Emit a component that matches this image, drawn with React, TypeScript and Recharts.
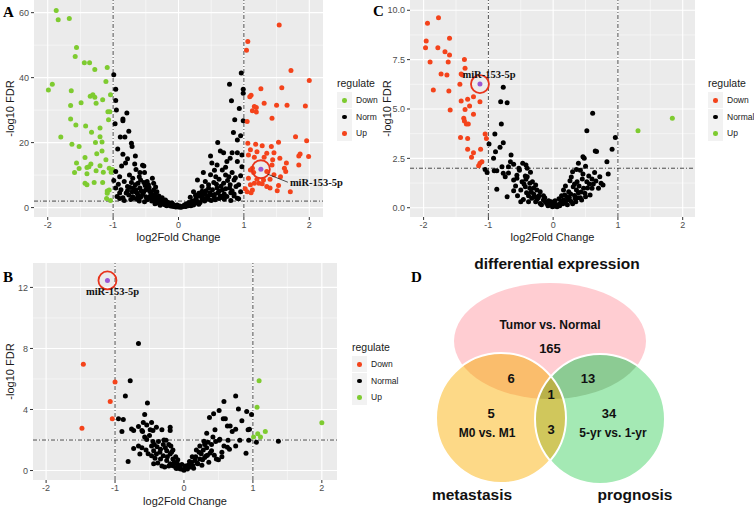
import React from "react";
import {
  ScatterChart,
  Scatter,
  XAxis,
  YAxis,
  CartesianGrid,
  ReferenceLine,
  Legend,
} from "recharts";

const RED = "#F4431B";
const GREEN = "#7ECB30";
const BLACK = "#000000";
const PURPLE = "#9B57D3";
const RING = "#E8341C";

const mirName = "miR-153-5p";
const xTicks = [-2, -1, 0, 1, 2];
const xMinor = [-1.5, -0.5, 0.5, 1.5];

// ---- panel A: flat [log2FC, -log10 FDR] pairs
const aDown = [
  -1.87, 60.7, -1.84, 57.8, -1.67, 58.2, -1.56, 49.3, -1.58, 46.5, -1.44, 44.6, -1.36, 44.6, -1.28, 42.5,
  -1.09, 43.1, -1.11, 38.8, -1.93, 38.0, -1.99, 36.2, -1.64, 36.0, -1.35, 34.3, -1.31, 34.7, -1.28, 34.0,
  -1.16, 33.2, -1.04, 34.7, -1.49, 32.3, -1.26, 32.1, -1.65, 31.4, -1.08, 29.5, -1.05, 29.5, -1.65, 27.3,
  -1.07, 27.0, -1.8, 21.7, -1.63, 19.5, -1.52, 18.8, -1.57, 25.4, -1.42, 25.1, -1.33, 23.2, -1.2, 24.5,
  -1.2, 21.8, -1.27, 20.0, -1.17, 20.2, -1.17, 17.4, -1.25, 16.6, -1.43, 15.4, -1.11, 14.7, -1.34, 13.4,
  -1.2, 12.9, -1.56, 13.7, -1.4, 12.3, -1.37, 12.6, -1.52, 12.0, -1.59, 10.8, -1.4, 10.4, -1.26, 11.3,
  -1.15, 10.9, -1.06, 12.1, -1.03, 10.9, -1.01, 11.7, -1.43, 7.5, -1.4, 7.0, -1.29, 7.7, -1.16, 7.7,
  -1.09, 5.1, -1.06, 5.4, -1.09, 4.4, -1.1, 2.8, -1.04, 2.2,
];
const aNorm = [
  -0.99, 40.9, -0.96, 36.4, -0.96, 33.0, -0.79, 29.1, -0.85, 27.3, -0.97, 25.8, -0.85, 26.7, -0.82, 21.7,
  -0.89, 21.7, -0.72, 19.8, -0.71, 18.8, -0.85, 16.4, -0.66, 15.9, -0.81, 13.7, -0.67, 13.4, -0.87, 12.8,
  -0.53, 12.8, -0.96, 11.1, -0.59, 10.8, -0.52, 10.8, -0.4, 9.0, -0.99, 8.3, -0.83, 8.0, -0.72, 7.7,
  -0.62, 7.5, -0.53, 7.7, -0.48, 8.0, -0.38, 7.5, -0.96, 6.0, -0.78, 6.5, -0.69, 6.0, -0.59, 6.0,
  -0.45, 6.2, -0.38, 5.4, -0.78, 5.2, -0.71, 4.9, -0.63, 4.4, -0.53, 4.9, -0.33, 4.9, -0.94, 3.4,
  -0.76, 3.9, -0.68, 2.9, -0.58, 3.2, -0.48, 2.4, -0.38, 2.4, -0.27, 2.6, -0.22, 1.8, -0.17, 1.4,
  -0.12, 0.8, -0.05, 0.5, 0.03, 0.1, -0.3, 3.6, -0.43, 3.6, -0.63, 2.6, -0.33, 1.4, -0.27, 1.1,
  -0.2, 0.8, -0.25, 2.2, -0.15, 1.5, -0.1, 1.4, -0.07, 0.8, -0.02, 0.8, 0.08, 0.5, 0.13, 0.8,
  -0.85, 3.0, -0.9, 4.5, -0.55, 4.0, -0.45, 3.0, -0.35, 3.0, -0.41, 2.0, -0.3, 1.8, -0.36, 1.2,
  -0.22, 1.0, -0.12, 0.5, -0.08, 0.3, -0.04, 0.2, -0.18, 0.6, -0.28, 0.7, -0.52, 1.8, -0.6, 2.0,
  -0.7, 3.3, -0.5, 5.5, -0.65, 5.5, -0.42, 4.4, -0.46, 7.0, -0.58, 8.5, -0.75, 10.0, -0.65, 11.7,
  -0.9, 9.5, -0.78, 15.0, -0.93, 18.0, -0.76, 23.5, -0.95, 30.0,
  -0.62, 3.8, -0.57, 5.1, -0.51, 6.8, -0.44, 5.0, -0.4, 3.3, -0.36, 4.1, -0.33, 2.0, -0.31, 2.9,
  -0.28, 1.5, -0.25, 3.0, -0.23, 1.2, -0.2, 2.3, -0.18, 1.8, -0.16, 0.9, -0.14, 1.1, -0.11, 0.6,
  -0.09, 1.0, -0.06, 0.4, -0.03, 0.3, 0.0, 0.2, -0.66, 7.0, -0.74, 6.2, -0.8, 4.5, -0.88, 5.5,
  -0.92, 7.2, -0.7, 9.0, -0.6, 9.5, -0.55, 13.0, -0.48, 6.0, -0.35, 6.3, -0.42, 2.8, -0.5, 3.3,
  -0.65, 4.8, -0.73, 2.5, -0.83, 2.2, -0.9, 2.8,
  0.99, 26.7, 0.84, 23.1, 0.95, 22.1, 0.9, 20.8, 0.64, 17.4, 0.69, 16.9, 0.82, 16.9, 0.9, 16.9,
  0.97, 16.2, 0.49, 15.9, 0.79, 15.2, 0.74, 14.2, 0.51, 13.7, 0.59, 13.1, 0.9, 14.2, 0.97, 12.6,
  0.72, 12.4, 0.67, 11.6, 0.82, 10.8, 0.38, 10.8, 0.49, 10.1, 0.77, 9.5, 0.62, 8.7, 0.85, 8.5,
  0.29, 8.5, 0.41, 8.0, 0.54, 7.7, 0.69, 7.5, 0.79, 7.0, 0.92, 7.0, 0.36, 6.5, 0.46, 6.0,
  0.59, 6.0, 0.67, 5.4, 0.82, 5.2, 0.95, 4.9, 0.23, 4.9, 0.31, 4.4, 0.41, 4.2, 0.51, 3.9,
  0.64, 3.6, 0.74, 3.4, 0.9, 2.9, 0.18, 3.2, 0.26, 2.4, 0.36, 2.4, 0.46, 2.6, 0.56, 2.4,
  0.18, 1.4, 0.23, 0.8, 0.29, 1.4, 0.92, 2.7, 0.96, 41.4, 0.78, 38.0, 0.99, 36.4, 0.99, 35.2,
  0.81, 32.9, 0.1, 0.4, 0.15, 0.6, 0.2, 1.0, 0.05, 0.2, 0.12, 1.2, 0.25, 1.8, 0.33, 1.6,
  0.4, 2.0, 0.44, 3.0, 0.55, 3.0, 0.6, 4.5, 0.7, 4.2, 0.85, 3.6, 0.78, 6.0, 0.88, 6.5,
  0.3, 3.6, 0.36, 5.0, 0.57, 9.5, 0.72, 10.0, 0.95, 9.8, 0.6, 20.0, 0.86, 27.0, 0.93, 30.5,
  0.02, 0.5, 0.06, 0.3, 0.09, 0.8, 0.11, 0.3, 0.14, 1.0, 0.16, 1.6, 0.19, 0.6, 0.21, 2.0,
  0.24, 1.3, 0.27, 3.0, 0.28, 2.0, 0.31, 1.0, 0.34, 3.5, 0.38, 2.9, 0.42, 5.2, 0.45, 3.5,
  0.48, 4.6, 0.52, 5.5, 0.55, 4.0, 0.58, 7.2, 0.62, 5.0, 0.65, 6.6, 0.68, 3.0, 0.72, 5.8,
  0.75, 8.3, 0.8, 4.6, 0.87, 9.2, 0.5, 2.2, 0.62, 2.8, 0.7, 2.6, 0.8, 2.2, 0.85, 4.2,
  0.38, 4.2, 0.26, 3.8, 0.46, 7.0, 0.55, 11.5,
];
const aUp = [
  1.54, 56.2, 1.06, 51.1, 1.04, 48.4, 1.72, 42.2, 2.0, 39.1, 1.26, 36.6, 1.58, 36.9, 1.11, 34.6,
  1.09, 34.1, 1.31, 32.1, 1.5, 31.5, 1.66, 31.5, 1.94, 31.3, 1.16, 31.1, 1.19, 30.8, 1.13, 29.8,
  1.19, 29.4, 1.43, 27.5, 1.05, 26.5, 1.79, 21.8, 1.96, 20.6, 1.06, 19.8, 1.18, 19.5, 1.28, 19.0,
  1.42, 18.8, 1.53, 20.1, 1.86, 16.5, 1.84, 15.9, 1.99, 15.7, 1.1, 17.8, 1.2, 17.2, 1.35, 16.7,
  1.46, 16.9, 1.55, 15.2, 1.07, 16.2, 1.16, 15.5, 1.31, 15.5, 1.44, 14.7, 1.65, 13.7, 1.84, 13.1,
  1.43, 13.1, 1.62, 12.1, 1.64, 11.1, 1.1, 11.6, 1.15, 10.8, 1.13, 12.1, 1.35, 11.1, 1.46, 10.1,
  1.56, 9.5, 1.07, 9.0, 1.2, 8.7, 1.3, 8.5, 1.4, 8.7, 1.23, 7.5, 1.28, 7.3, 1.1, 7.0,
  1.16, 7.5, 1.35, 6.5, 1.4, 6.0, 1.53, 6.8, 1.02, 5.8, 1.13, 5.4, 1.51, 5.2, 1.71, 4.9,
  1.11, 4.6, 1.05, 4.9,
];
const aMir = [1.26, 11.8];

// ---- panel C
const cDown = [
  -1.94, 9.34, -1.77, 9.62, -1.96, 8.44, -1.97, 8.1, -1.78, 8.1, -1.6, 8.58, -1.67, 7.9, -1.6, 7.73,
  -1.9, 7.38, -1.62, 7.38, -1.37, 7.51, -1.36, 7.06, -1.73, 6.77, -1.64, 6.72, -1.42, 6.77, -1.4, 6.72,
  -1.44, 6.25, -1.85, 5.96, -1.61, 5.91, -1.23, 5.62, -1.32, 5.49, -1.42, 5.4, -1.13, 5.37, -1.29, 5.15,
  -1.36, 4.98, -1.59, 4.95, -1.23, 4.73, -1.38, 4.53, -1.37, 4.39, -1.34, 4.24, -1.31, 4.24, -1.43, 3.56,
  -1.32, 3.51, -1.05, 3.73, -1.03, 3.51, -1.32, 2.96, -1.12, 2.96, -1.23, 2.78, -1.26, 2.55, -1.1, 2.33,
  -1.13, 2.25, -1.15, 2.13,
];
const cNorm = [
  -0.77, 6.1, -0.81, 5.37, -0.71, 5.32, 0.61, 4.78, 0.52, 3.9, 0.96, 3.56, 0.91, 2.96, 0.65, 2.87,
  0.67, 2.85, 0.46, 2.58, 0.48, 2.5, 0.83, 2.33, 0.39, 2.25, 0.36, 1.94, 0.3, 1.82, 0.46, 1.71,
  0.64, 1.79, 0.85, 1.71, 0.55, 1.61, 0.72, 1.57, 0.26, 1.37, 0.37, 1.32, 0.52, 1.32, 0.74, 1.24,
  0.77, 1.15, 0.16, 0.9, 0.31, 1.06, 0.47, 0.98, 0.6, 0.98, 0.7, 0.98, 0.24, 0.81, 0.39, 0.76,
  0.49, 0.73, 0.57, 0.64, 0.21, 0.56, 0.34, 0.48, 0.44, 0.39, 0.16, 0.39, 0.11, 0.22, 0.28, 0.31,
  -0.8, 4.24, -0.9, 3.73, -0.99, 3.23, -0.77, 3.29, -0.82, 3.06, -0.89, 2.84, -0.65, 2.67, -0.92, 2.5,
  -0.66, 2.33, -0.61, 2.2, -0.47, 2.25, -0.42, 2.16, -0.79, 2.08, -0.69, 2.08, -1.05, 1.94, -1.02, 1.79,
  -0.91, 1.87, -0.87, 1.87, -0.77, 1.74, -0.69, 1.76, -0.74, 1.57, -0.56, 1.65, -0.43, 1.61, -0.4, 1.57,
  -0.61, 1.4, -0.56, 1.49, -0.48, 1.32, -0.42, 1.44, -0.36, 1.24, -0.32, 1.32, -0.87, 0.93, -0.61, 0.86,
  -0.43, 1.06, -0.36, 0.98, -0.25, 0.9, -0.41, 0.76, -0.3, 0.69, -0.2, 0.81, -0.71, 0.56, -0.5, 0.3,
  -0.46, 0.41, -0.33, 0.48, -0.25, 0.41, -0.15, 0.39, -0.2, 0.22, -0.1, 0.22, -0.05, 0.14, -0.01, 0.05,
  0.04, 0.1, -0.3, 1.0, -0.28, 0.55, -0.38, 0.6, -0.15, 0.6, -0.12, 0.3, -0.07, 0.35, 0.02, 0.2,
  0.07, 0.15, 0.09, 0.45, 0.13, 0.6, 0.19, 0.3, 0.22, 0.15, 0.33, 0.62, 0.4, 1.1, 0.42, 0.5,
  0.36, 0.9, 0.56, 1.2, 0.6, 1.45, 0.66, 1.35, 0.42, 1.9, 0.5, 2.1, 0.28, 1.55, 0.19, 1.1,
  -0.52, 1.9, -0.35, 1.8, -0.5, 0.9, -0.58, 1.1, -0.22, 0.6, 0.1, 0.1, 0.25, 0.5,
  -0.27, 0.3, -0.23, 0.5, -0.18, 0.15, -0.13, 0.5, -0.08, 0.1, -0.03, 0.3, 0.0, 0.08, 0.03, 0.35,
  0.06, 0.05, 0.12, 0.35, 0.15, 0.2, 0.18, 0.65, 0.23, 0.4, 0.27, 0.7, 0.3, 0.2, 0.35, 0.3,
  0.38, 0.5, 0.43, 0.8, 0.5, 0.55, 0.53, 1.0, 0.33, 1.2, -0.38, 0.3, -0.34, 0.8, -0.45, 1.2,
  -0.27, 1.15, -0.55, 0.6, 0.62, 1.2, 0.45, 1.45, -0.4, 2.0, -0.53, 2.0,
];
const cUp = [1.84, 4.53, 1.31, 3.9];
const cMir = [-1.13, 6.26];

// ---- panel B
const bDown = [-1.46, 6.96, -1.0, 5.8, -1.07, 4.53, -1.04, 3.4, -1.48, 2.77];
const bNorm = [
  -0.66, 8.32, -0.78, 5.88, -0.85, 4.89, -0.53, 4.42, -0.57, 3.68, -0.95, 3.4, -0.88, 3.34, -0.47, 3.15,
  -0.59, 3.15, -0.54, 2.98, -0.66, 2.88, -0.4, 2.83, -0.2, 2.83, -0.76, 2.73, -0.73, 2.63, -0.61, 2.62,
  -0.49, 2.67, -0.45, 2.62, -0.32, 2.67, -0.2, 2.62, -0.9, 2.56, -0.6, 2.56, -0.57, 2.2, -0.26, 1.99,
  -0.54, 2.03, -0.66, 1.61, -0.73, 1.44, -0.61, 1.5, -0.64, 1.08, -0.47, 1.61, -0.43, 1.71, -0.39, 1.56,
  -0.3, 1.71, -0.22, 1.71, -0.19, 1.61, -0.44, 1.29, -0.34, 1.39, -0.25, 1.29, -0.16, 1.35, -0.47, 0.97,
  -0.4, 1.08, -0.3, 0.97, -0.2, 1.08, -0.44, 0.44, -0.81, 0.59, -0.34, 0.76, -0.25, 0.65, -0.16, 0.76,
  -0.28, 0.23, -0.16, 0.32, -0.1, 0.48, -0.06, 0.23, -0.11, 0.13, -0.01, 0.06, 0.03, 0.13,
  0.58, 4.53, 0.75, 4.89, 0.79, 4.04, 0.91, 3.87, 0.98, 3.68, 0.51, 3.94, 0.43, 3.72, 0.37, 3.47,
  0.57, 3.4, 0.6, 3.4, 0.84, 3.26, 0.63, 2.92, 0.67, 2.92, 0.45, 2.67, 0.75, 2.7, 0.93, 2.67,
  0.95, 2.7, 0.7, 2.56, 0.33, 2.45, 0.51, 1.99, 0.52, 2.05, 0.64, 1.99, 0.81, 1.99, 0.94, 1.99,
  0.29, 1.92, 0.35, 1.85, 0.4, 1.7, 0.63, 1.52, 0.66, 1.4, 0.75, 1.61, 0.9, 1.14, 0.33, 1.5,
  0.23, 1.61, 0.18, 1.35, 0.25, 1.1, 0.32, 0.95, 0.47, 0.76, 0.23, 0.76, 0.3, 0.85, 0.11, 0.55,
  0.16, 0.65, 0.09, 0.23, 0.13, 0.32, 1.05, 1.86, 1.37, 1.92, -0.05, 0.1, 0.06, 0.35, -0.08, 0.35,
  0.2, 0.45, -0.2, 0.45, 0.28, 1.35, -0.37, 1.9, -0.5, 2.3, 0.42, 2.2, 0.55, 1.2, -0.55, 1.35,
  0.38, 1.15, -0.12, 0.9, 0.12, 0.9, 0.0, 0.02,
  -0.38, 0.5, -0.35, 1.2, -0.32, 0.3, -0.27, 1.5, -0.24, 0.9, -0.22, 0.3, -0.18, 1.2, -0.14, 0.55,
  -0.12, 0.2, -0.09, 0.7, -0.07, 0.15, -0.03, 0.4, 0.02, 0.3, 0.05, 0.1, 0.08, 0.6, 0.1, 0.35,
  0.14, 0.15, 0.17, 0.9, 0.19, 0.5, 0.22, 1.2, 0.26, 0.35, 0.27, 0.7, 0.3, 1.7, 0.34, 1.0,
  0.36, 0.55, 0.4, 1.3, 0.44, 1.0, 0.46, 1.9, 0.5, 0.7, -0.42, 0.8, -0.45, 1.9, -0.52, 1.1,
  -0.29, 2.0, 0.55, 0.9, 0.58, 1.6,
];
const bUp = [1.09, 5.88, 1.06, 4.15, 1.01, 2.2, 1.07, 2.41, 1.11, 2.2, 1.18, 2.56, 2.0, 3.13];
const bMir = [-1.11, 12.46];

// ---- panel D (Venn counts)
const vennSetNames = ["differential expression", "metastasis", "prognosis"];
const vennSetTests = ["Tumor vs. Normal", "M0 vs. M1", "5-yr vs. 1-yr"];
const vennRegions = ["DE", "M", "P", "DE&M", "DE&P", "M&P", "DE&M&P"];
const vennCounts = [165, 5, 34, 6, 13, 3, 1];

// Venn layout (chart units = px)
const setGeom = [
  { x: 170, y: 91, rx: 96, ry: 58 },
  { x: 121, y: 168, rx: 65, ry: 65 },
  { x: 220, y: 169, rx: 65, ry: 65 },
];
const setFill = ["#FFCDD2", "#FDD987", "#A4E9B4"];
const overlaps = [
  { b: 1, clips: [0], fill: "#FABD6C" },
  { b: 2, clips: [0], fill: "#8CCB93" },
  { b: 2, clips: [1], fill: "#D0C75C" },
  { b: 2, clips: [0, 1], fill: "#B9B14A" },
];
const countPos = [
  [170, 98], [111, 163], [229, 163], [131, 128], [208, 128], [171, 179], [171, 144],
];
const testPos = [[170, 75], [107, 183], [233, 183]];
const namePos = [[177, 13], [92, 244], [255, 244]];

const pts = (flat: number[]) => {
  const out: { x: number; y: number }[] = [];
  for (let i = 0; i < flat.length; i += 2) out.push({ x: flat[i], y: flat[i + 1] });
  return out;
};

const dot = (color: string) => (p: any) => <circle cx={p.cx} cy={p.cy} r={2.5} fill={color} />;

const mirShape = (cfg: any) => (p: any) => (
  <g>
    <circle cx={p.cx} cy={p.cy} r={2.5} fill={PURPLE} />
    <circle cx={p.cx} cy={p.cy} r={9} fill="none" stroke={RING} strokeWidth={1.8} />
    {cfg.leader && (
      <line x1={p.cx + 7} y1={p.cy + 5} x2={p.cx + 27} y2={p.cy + 13} stroke="#222" strokeWidth={0.8} />
    )}
    <text
      x={p.cx + cfg.dx}
      y={p.cy + cfg.dy}
      textAnchor={cfg.anchor}
      dominantBaseline="central"
      fontFamily="'Liberation Serif', 'Times New Roman', serif"
      fontWeight="bold"
      fontSize={10.5}
      fill="#111"
    >
      {mirName}
    </text>
  </g>
);

const LegendBox = ({ labels }: { labels: { name: string; color: string }[] }) => (
  <div style={{ color: "#1A1A1A", fontFamily: "'Liberation Sans', Arial, sans-serif" }}>
    <div style={{ fontSize: 10.5, height: 16, lineHeight: "16px", marginBottom: 1 }}>regulate</div>
    {labels.map((l) => (
      <div key={l.name} style={{ display: "flex", alignItems: "center", height: 16.5 }}>
        <div style={{ width: 15, height: 16, background: "#F2F2F2", position: "relative" }}>
          <div
            style={{
              position: "absolute",
              left: 5,
              top: 6,
              width: 4.6,
              height: 4.6,
              borderRadius: "50%",
              background: l.color,
            }}
          />
        </div>
        <span style={{ marginLeft: 4, fontSize: 8.5 }}>{l.name}</span>
      </div>
    ))}
  </div>
);

function Volcano(props: any) {
  const {
    w, h, margin, yAxisW, xAxisH, xDomain, yDomain, yTicks, yMinor, yFmt,
    series, mir, mirCfg, legend, legendPos, yTitleOffset, xTitleOffset,
  } = props;
  return (
    <ScatterChart width={w} height={h} margin={margin}>
      <CartesianGrid fill="#EBEBEB" stroke="none" horizontal={false} vertical={false} />
      <CartesianGrid stroke="#FFFFFF" strokeWidth={0.5} horizontalValues={yMinor} verticalValues={xMinor} />
      <CartesianGrid stroke="#FFFFFF" strokeWidth={1.1} horizontalValues={yTicks} verticalValues={xTicks} />
      <XAxis
        type="number"
        dataKey="x"
        domain={xDomain}
        ticks={xTicks}
        axisLine={false}
        tickSize={3}
        tickLine={{ stroke: "#333" }}
        tick={{ fill: "#4D4D4D", fontSize: 9 }}
        height={xAxisH}
        label={{
          value: "log2Fold Change",
          position: "insideBottom",
          offset: xTitleOffset,
          style: { fill: "#1A1A1A", fontSize: 11 },
        }}
      />
      <YAxis
        type="number"
        dataKey="y"
        domain={yDomain}
        ticks={yTicks}
        axisLine={false}
        tickSize={3}
        tickLine={{ stroke: "#333" }}
        tick={{ fill: "#4D4D4D", fontSize: 9 }}
        tickFormatter={yFmt}
        width={yAxisW}
        label={{
          value: "-log10 FDR",
          angle: -90,
          position: "insideLeft",
          offset: yTitleOffset,
          style: { fill: "#1A1A1A", fontSize: 11, textAnchor: "middle" },
        }}
      />
      {series.map((s: any) => (
        <Scatter key={s.name} name={s.name} data={pts(s.data)} shape={dot(s.color)} isAnimationActive={false} />
      ))}
      <ReferenceLine x={-1} stroke="#222" strokeWidth={0.8} strokeDasharray="4 2 1 2" />
      <ReferenceLine x={1} stroke="#222" strokeWidth={0.8} strokeDasharray="4 2 1 2" />
      <ReferenceLine y={2} stroke="#222" strokeWidth={0.8} strokeDasharray="4 2 1 2" />
      <Scatter name={mirName} data={pts(mir)} shape={mirShape(mirCfg)} isAnimationActive={false} />
      <Legend
        layout="horizontal"
        verticalAlign="middle"
        align="center"
        wrapperStyle={{ left: legendPos[0], top: legendPos[1], width: 70, height: 70 }}
        content={() => <LegendBox labels={legend} />}
      />
    </ScatterChart>
  );
}

const setShape = (p: any) => {
  const i = p.payload.i;
  return <ellipse cx={p.cx} cy={p.cy} rx={setGeom[i].rx} ry={setGeom[i].ry} fill={setFill[i]} />;
};

const overlapShape = (p: any) => {
  const { b, clips, fill, id } = p.payload;
  const gb = setGeom[b];
  const ox = p.cx - gb.x;
  const oy = p.cy - gb.y;
  let node = <ellipse cx={p.cx} cy={p.cy} rx={gb.rx} ry={gb.ry} fill={fill} />;
  clips.forEach((c: number, k: number) => {
    node = <g clipPath={`url(#${id}-${k})`}>{node}</g>;
  });
  return (
    <g>
      <defs>
        {clips.map((c: number, k: number) => (
          <clipPath id={`${id}-${k}`} key={k}>
            <ellipse cx={setGeom[c].x + ox} cy={setGeom[c].y + oy} rx={setGeom[c].rx} ry={setGeom[c].ry} />
          </clipPath>
        ))}
      </defs>
      {node}
    </g>
  );
};

const outlineShape = (p: any) => {
  const g = setGeom[p.payload.i];
  return <ellipse cx={p.cx} cy={p.cy} rx={g.rx} ry={g.ry} fill="none" stroke="#FFFFFF" strokeWidth={2} />;
};

const textShape = (p: any) => (
  <text
    x={p.cx}
    y={p.cy}
    textAnchor="middle"
    dominantBaseline="central"
    fontFamily="'Liberation Sans', Arial, sans-serif"
    fontWeight="bold"
    fontSize={p.payload.size}
    fill="#111"
  >
    {p.payload.text}
  </text>
);

function Venn() {
  const sets = setGeom.map((g, i) => ({ x: g.x, y: g.y, i }));
  const ov = overlaps.map((o, k) => ({ x: setGeom[o.b].x, y: setGeom[o.b].y, ...o, id: `vclip${k}` }));
  const texts = [
    ...vennCounts.map((c, k) => ({ x: countPos[k][0], y: countPos[k][1], text: String(c), size: 13, region: vennRegions[k] })),
    ...vennSetTests.map((t, k) => ({ x: testPos[k][0], y: testPos[k][1], text: t, size: 12 })),
    ...vennSetNames.map((t, k) => ({ x: namePos[k][0], y: namePos[k][1], text: t, size: 15.5 })),
  ];
  return (
    <ScatterChart width={374} height={257} margin={{ top: 0, right: 0, bottom: 0, left: 0 }}>
      <XAxis type="number" dataKey="x" domain={[0, 374]} hide height={0} />
      <YAxis type="number" dataKey="y" domain={[0, 257]} reversed hide width={0} />
      <Scatter data={sets} shape={setShape} isAnimationActive={false} />
      <Scatter data={ov} shape={overlapShape} isAnimationActive={false} />
      <Scatter data={sets.slice(1)} shape={outlineShape} isAnimationActive={false} />
      <Scatter data={texts} shape={textShape} isAnimationActive={false} />
    </ScatterChart>
  );
}

const letterStyle: React.CSSProperties = {
  position: "absolute",
  fontFamily: "'Liberation Serif', 'Times New Roman', serif",
  fontWeight: "bold",
  fontSize: 15,
  lineHeight: "15px",
  color: "#000",
};

export default function App() {
  return (
    <div
      style={{
        position: "absolute",
        left: 0,
        top: 0,
        width: 754,
        height: 507,
        background: "#fff",
        overflow: "hidden",
        fontFamily: "'Liberation Sans', Arial, sans-serif",
      }}
    >
      <div style={{ position: "absolute", left: 0, top: 0 }}>
        <Volcano
          w={372}
          h={245}
          margin={{ top: 0, right: 49, bottom: 0, left: 0 }}
          yAxisW={34}
          xAxisH={28}
          xDomain={[-2.21, 2.21]}
          yDomain={[-2.9, 63.9]}
          yTicks={[0, 20, 40, 60]}
          yMinor={[10, 30, 50]}
          yFmt={(v: number) => String(v)}
          series={[
            { name: "Down", data: aDown, color: GREEN },
            { name: "Norm", data: aNorm, color: BLACK },
            { name: "Up", data: aUp, color: RED },
          ]}
          mir={aMir}
          mirCfg={{ dx: 29, dy: 13, anchor: "start", leader: true }}
          legend={[
            { name: "Down", color: GREEN },
            { name: "Norm", color: BLACK },
            { name: "Up", color: RED },
          ]}
          legendPos={[337, 75]}
          yTitleOffset={10}
          xTitleOffset={4}
        />
      </div>
      <div style={{ position: "absolute", left: 372, top: 0 }}>
        <Volcano
          w={382}
          h={245}
          margin={{ top: 0, right: 59, bottom: 0, left: 0 }}
          yAxisW={38}
          xAxisH={28}
          xDomain={[-2.21, 2.19]}
          yDomain={[-0.47, 10.52]}
          yTicks={[0, 2.5, 5, 7.5, 10]}
          yMinor={[1.25, 3.75, 6.25, 8.75]}
          yFmt={(v: number) => v.toFixed(1)}
          series={[
            { name: "Down", data: cDown, color: RED },
            { name: "Normal", data: cNorm, color: BLACK },
            { name: "Up", data: cUp, color: GREEN },
          ]}
          mir={cMir}
          mirCfg={{ dx: 9, dy: -10, anchor: "middle", leader: false }}
          legend={[
            { name: "Down", color: RED },
            { name: "Normal", color: BLACK },
            { name: "Up", color: GREEN },
          ]}
          legendPos={[336, 75]}
          yTitleOffset={15}
          xTitleOffset={4}
        />
      </div>
      <div style={{ position: "absolute", left: 0, top: 250 }}>
        <Volcano
          w={400}
          h={257}
          margin={{ top: 13, right: 63, bottom: 0, left: 0 }}
          yAxisW={33}
          xAxisH={27}
          xDomain={[-2.19, 2.22]}
          yDomain={[-0.62, 13.6]}
          yTicks={[0, 4, 8, 12]}
          yMinor={[2, 6, 10]}
          yFmt={(v: number) => String(v)}
          series={[
            { name: "Down", data: bDown, color: RED },
            { name: "Normal", data: bNorm, color: BLACK },
            { name: "Up", data: bUp, color: GREEN },
          ]}
          mir={bMir}
          mirCfg={{ dx: 5, dy: 11, anchor: "middle", leader: false }}
          legend={[
            { name: "Down", color: RED },
            { name: "Normal", color: BLACK },
            { name: "Up", color: GREEN },
          ]}
          legendPos={[352, 89]}
          yTitleOffset={10}
          xTitleOffset={2}
        />
      </div>
      <div style={{ position: "absolute", left: 380, top: 250 }}>
        <Venn />
      </div>
      <div style={{ ...letterStyle, left: 3, top: 5 }}>A</div>
      <div style={{ ...letterStyle, left: 373, top: 4 }}>C</div>
      <div style={{ ...letterStyle, left: 3, top: 270 }}>B</div>
      <div style={{ ...letterStyle, left: 411, top: 270 }}>D</div>
    </div>
  );
}
